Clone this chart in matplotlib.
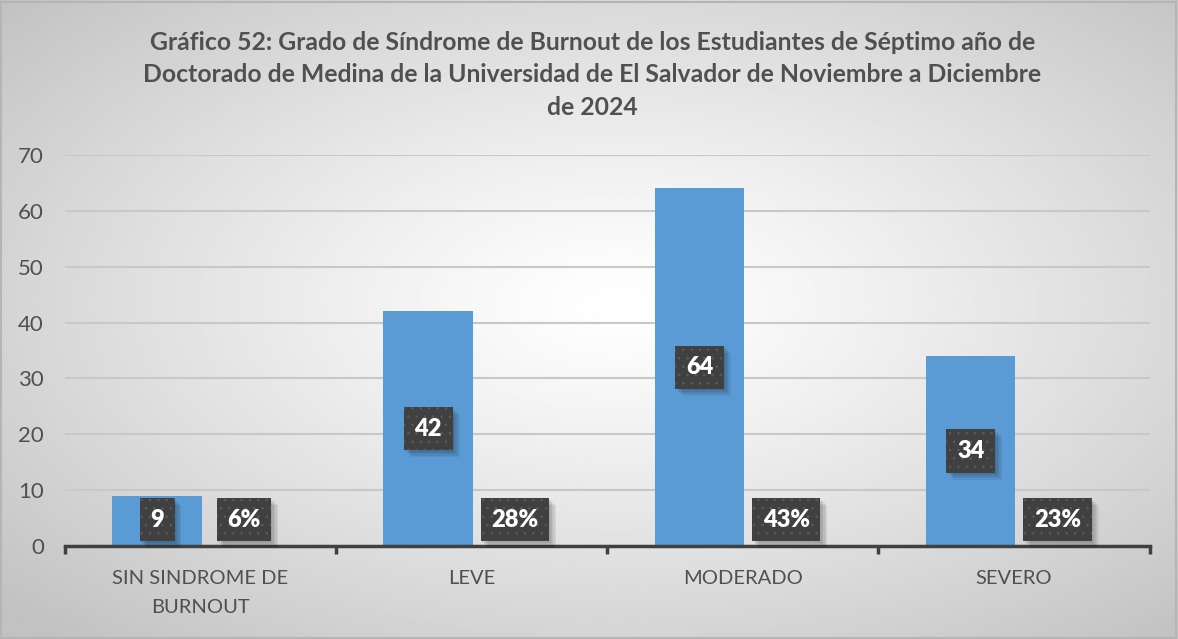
import matplotlib
matplotlib.use("Agg")
import matplotlib.pyplot as plt
import matplotlib.patheffects as pe
import numpy as np

# datos del gráfico
categorias = ["SIN SINDROME DE\nBURNOUT", "LEVE", "MODERADO", "SEVERO"]
frecuencia = [9, 42, 64, 34]
porcentaje = [0.06, 0.28, 0.43, 0.23]
titulo = ("Gráfico 52: Grado de Síndrome de Burnout de los Estudiantes de Séptimo año de\n"
          "Doctorado de Medina de la Universidad de El Salvador de Noviembre a Diciembre\n"
          "de 2024")

plt.rcParams['font.family'] = ['Lato', 'DejaVu Sans']
plt.rcParams['hatch.linewidth'] = 0.6
gris = "#505050"

fig = plt.figure(figsize=(11.78, 6.39), dpi=100)

# fondo con degradado radial
fondo = fig.add_axes([0, 0, 1, 1], zorder=0)
gx, gy = np.meshgrid(np.linspace(-1, 1, 400), np.linspace(-1, 1, 220))
r = np.sqrt((gx - 0.05) ** 2 + (gy + 0.05) ** 2) / np.sqrt(2)
r = np.clip(r, 0, 1)
img = 1.0 - 0.24 * r ** 1.2
fondo.imshow(img, cmap="gray", vmin=0, vmax=1, aspect="auto", extent=[0, 1, 0, 1],
             interpolation="bilinear")
fondo.set_xlim(0, 1)
fondo.set_ylim(0, 1)
fondo.axis("off")
fondo.add_patch(plt.Rectangle((0.001, 0.002), 0.997, 0.995, fill=False,
                              edgecolor="#b5b5b5", lw=1.5, transform=fondo.transAxes))

ax = fig.add_axes([0.055, 0.1455, 0.921, 0.612], zorder=1)
ax.patch.set_alpha(0)

x = np.arange(len(categorias))
ancho = 0.33
b1 = ax.bar(x - 0.16, frecuencia, ancho, color="#5B9BD5", zorder=2)
# la serie de porcentajes queda casi plana sobre el eje
b2 = ax.bar(x + 0.16, porcentaje, ancho, color="none", zorder=2)

ax.set_xlim(-0.5, len(categorias) - 0.5)
ax.set_ylim(0, 70)
ax.set_yticks(range(0, 71, 10))
ax.yaxis.grid(True, color="#c8c8c8", lw=1.5, zorder=0)
ax.set_axisbelow(True)

for s in ["top", "right", "left"]:
    ax.spines[s].set_visible(False)
ax.spines["bottom"].set_color("#404040")
ax.spines["bottom"].set_linewidth(2.5)
ax.spines["bottom"].set_zorder(3)

ax.set_xticks(x)
ax.set_xticklabels(categorias, fontsize=14.5, color=gris, linespacing=1.9)
ax.tick_params(axis="x", which="major", length=0, pad=17)
ax.set_xticks(np.arange(-0.5, len(categorias), 1), minor=True)
ax.tick_params(axis="x", which="minor", length=6, width=2.5, color="#404040", direction="out")
ax.tick_params(axis="y", length=0, pad=15, labelsize=16, labelcolor=gris)

# sombra difusa hecha con varias capas desplazadas
sombra = [pe.SimplePatchShadow(offset=(d, -d), shadow_rgbFace="#000000", alpha=0.06)
          for d in (1, 2, 3, 4, 5)] + [pe.Normal()]

def etiqueta(xp, yp, texto):
    estilo = dict(ha="center", va="center", fontsize=17, fontweight="heavy")
    # caja base con sombra
    base = ax.text(xp, yp, texto, color="none", zorder=4,
                   bbox=dict(boxstyle="square,pad=0.45", facecolor="#404040", linewidth=0),
                   **estilo)
    base.get_bbox_patch().set_path_effects(sombra)
    # trama de puntos y el número encima
    ax.text(xp, yp, texto, color="white", zorder=5,
            bbox=dict(boxstyle="square,pad=0.45", facecolor="none", edgecolor="#5a5a5a",
                      hatch="..", linewidth=0), **estilo)

for xi, v in zip(x, frecuencia):
    etiqueta(xi - 0.16, max(v / 2, 4.7), str(v))
for xi, p in zip(x, porcentaje):
    etiqueta(xi + 0.16, 4.7, f"{p * 100:.0f}%")

fig.text(0.503, 0.883, titulo, ha="center", va="center", fontsize=17.8, fontweight="bold",
         color=gris, linespacing=1.5)

fig.savefig("out.png", dpi=100)
